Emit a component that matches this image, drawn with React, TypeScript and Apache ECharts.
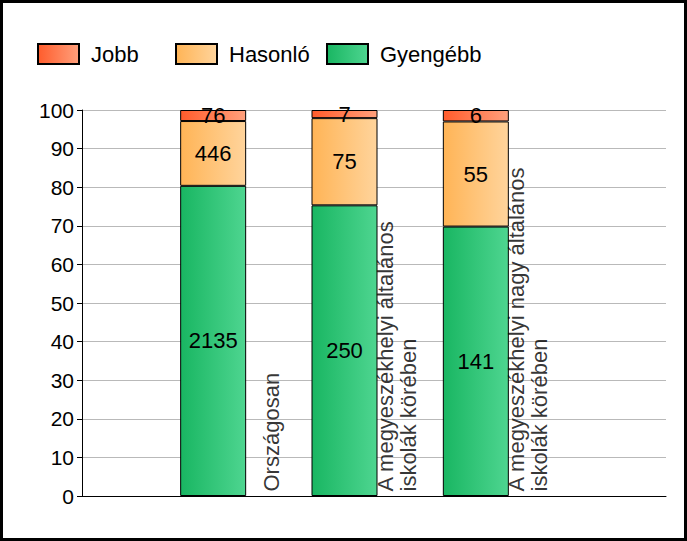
import React, { useEffect, useRef } from "react";
import * as echarts from "echarts";

const categories = [
  "Országosan",
  "A megyeszékhelyi általános\niskolák körében",
  "A megyeszékhelyi nagy általános\niskolák körében",
];
const seriesNames = ["Jobb", "Hasonló", "Gyengébb"];
const jobb = [76, 7, 6];
const hasonlo = [446, 75, 55];
const gyengebb = [2135, 250, 141];
const yTicks = [0, 10, 20, 30, 40, 50, 60, 70, 80, 90, 100];

const FONT = "'Liberation Sans', Arial, sans-serif";

const grad = (a: string, b: string) =>
  new echarts.graphic.LinearGradient(0, 0, 1, 0, [
    { offset: 0, color: a },
    { offset: 1, color: b },
  ]);

export default function App() {
  const ref = useRef<HTMLDivElement>(null);
  useEffect(() => {
    if (!ref.current) return;
    const chart = echarts.init(ref.current, undefined, { renderer: "svg" });
    const totals = categories.map((_, i) => jobb[i] + hasonlo[i] + gyengebb[i]);
    const pct = (arr: number[]) => arr.map((v, i) => (v / totals[i]) * 100);
    const colors: Record<string, [string, string]> = {
      Jobb: ["#ff5c2c", "#ffa07c"],
      Hasonló: ["#ffb456", "#ffd49c"],
      Gyengébb: ["#19b662", "#4ed590"],
    };
    const counts: Record<string, number[]> = {
      Jobb: jobb,
      Hasonló: hasonlo,
      Gyengébb: gyengebb,
    };
    const order = ["Gyengébb", "Hasonló", "Jobb"];
    const barSeries = order.map((name) => ({
      name,
      type: "bar",
      stack: "total",
      xAxisIndex: 1,
      yAxisIndex: 1,
      barWidth: 66,
      data: pct(counts[name]),
      itemStyle: {
        color: grad(colors[name][0], colors[name][1]),
        borderColor: "#000",
        borderWidth: 1,
      },
      label: {
        show: true,
        position: "inside",
        color: "#000",
        fontSize: 22,
        fontFamily: FONT,
        formatter: (p: any) => String(counts[name][p.dataIndex]),
      },
      emphasis: { disabled: true },
      silent: true,
    }));
    const labelDx = [59, 53, 53];
    const legendLefts = [37, 175, 326];
    chart.setOption({
      animation: false,
      backgroundColor: "#fff",
      legend: seriesNames.map((n, i) => ({
        data: [n],
        left: legendLefts[i],
        top: 43,
        padding: 0,
        itemWidth: 41,
        itemHeight: 20,
        icon: "rect",
        selectedMode: false,
        textStyle: {
          fontSize: 22,
          fontFamily: FONT,
          color: "#000",
          padding: [0, 0, 0, 7],
        },
      })),
      grid: [
        { left: 82, right: 21, top: 110, bottom: 45 },
        { left: 147.5, right: 145.5, top: 110, bottom: 45 },
      ],
      xAxis: [
        {
          gridIndex: 0,
          type: "value",
          min: 0,
          max: 1,
          axisLine: { show: true, lineStyle: { color: "#000", width: 1 } },
          axisTick: { show: false },
          axisLabel: { show: false },
          splitLine: { show: false },
        },
        {
          gridIndex: 1,
          type: "category",
          data: categories,
          show: false,
        },
      ],
      yAxis: [
        {
          gridIndex: 0,
          type: "value",
          min: 0,
          max: 100,
          interval: 10,
          axisLine: { show: true, lineStyle: { color: "#000", width: 1 } },
          axisTick: { show: true, length: 5, lineStyle: { color: "#000" } },
          axisLabel: {
            color: "#000",
            fontSize: 21,
            fontFamily: FONT,
            margin: 8,
            formatter: (v: number) => (yTicks.includes(v) ? String(v) : ""),
          },
          splitLine: { show: true, lineStyle: { color: "#b9b9b9", width: 1 } },
        },
        {
          gridIndex: 1,
          type: "value",
          min: 0,
          max: 100,
          show: false,
          splitLine: { show: false },
        },
      ],
      series: [
        ...barSeries,
        {
          type: "scatter",
          xAxisIndex: 1,
          yAxisIndex: 1,
          symbolSize: 1,
          itemStyle: { color: "rgba(0,0,0,0)" },
          silent: true,
          z: 5,
          data: categories.map((c, i) => ({
            value: [i, 0],
            label: { position: [labelDx[i], -4] },
          })),
          label: {
            show: true,
            rotate: 90,
            align: "left",
            verticalAlign: "middle",
            color: "#000",
            fontSize: 22,
            lineHeight: 23,
            fontFamily: FONT,
            formatter: (p: any) => categories[p.dataIndex],
          },
        },
      ],
    });
    return () => chart.dispose();
  }, []);
  return (
    <div style={{ position: "absolute", left: 0, top: 0, width: 687, height: 541 }}>
      <div ref={ref} style={{ position: "absolute", left: 0, top: 0, width: 687, height: 541 }} />
      <div
        style={{
          position: "absolute",
          left: 0,
          top: 0,
          width: 687,
          height: 541,
          boxSizing: "border-box",
          border: "3px solid #000",
          pointerEvents: "none",
        }}
      />
    </div>
  );
}
